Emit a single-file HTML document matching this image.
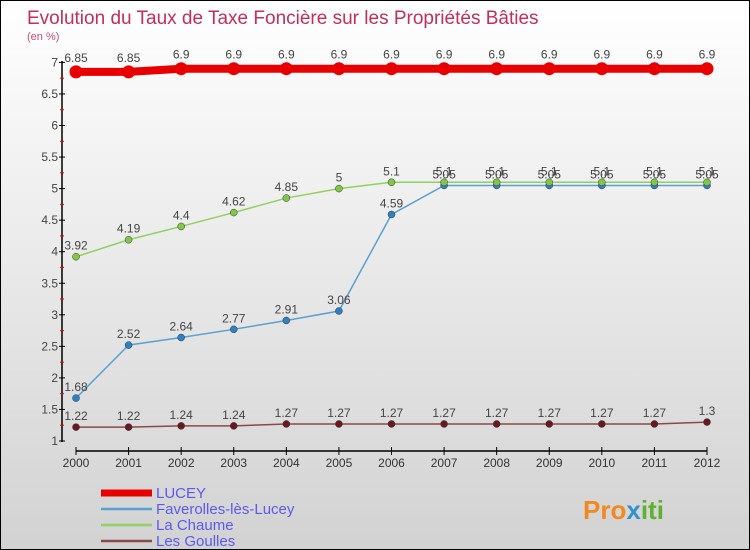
<!DOCTYPE html>
<html><head><meta charset="utf-8"><style>
body{margin:0}
#c{position:relative;width:748px;height:548px;border:1px solid #000;background:linear-gradient(#ffffff,#d2d2d2);font-family:"Liberation Sans",sans-serif;overflow:hidden}
svg text{font-family:"Liberation Sans",sans-serif}
</style></head><body>
<div id="c">
<svg id="s" width="748" height="548" xmlns="http://www.w3.org/2000/svg">
<text x="26" y="23" font-size="19" fill="#c0305a">Evolution du Taux de Taxe Foncière sur les Propriétés Bâties</text>
<text x="26" y="39" font-size="11" fill="#c0507a">(en %)</text>
<g id="axes"></g><g id="series"></g><g id="legend"></g>
<text x="582" y="518" font-size="26" font-weight="bold" fill="#f08a20">Pro<tspan fill="#3090d0">x</tspan><tspan fill="#60b030">iti</tspan></text>
</svg></div>
<script>
const years=[2000,2001,2002,2003,2004,2005,2006,2007,2008,2009,2010,2011,2012];
const yTicks=[1,1.5,2,2.5,3,3.5,4,4.5,5,5.5,6,6.5,7];
const lucey=[6.85,6.85,6.9,6.9,6.9,6.9,6.9,6.9,6.9,6.9,6.9,6.9,6.9];
const faverolles=[1.68,2.52,2.64,2.77,2.91,3.06,4.59,5.05,5.05,5.05,5.05,5.05,5.05];
const chaume=[3.92,4.19,4.4,4.62,4.85,5,5.1,5.1,5.1,5.1,5.1,5.1,5.1];
const goulles=[1.22,1.22,1.24,1.24,1.27,1.27,1.27,1.27,1.27,1.27,1.27,1.27,1.3];
const names=["LUCEY","Faverolles-lès-Lucey","La Chaume","Les Goulles"];
const NS="http://www.w3.org/2000/svg";
const X=i=>75+i*(706-75)/(years.length-1);
const Y=v=>440-(v-1)*63.1;
function mk(t,a,p){const e=document.createElementNS(NS,t);for(const k in a)e.setAttribute(k,a[k]);p.appendChild(e);return e;}
const ax=document.getElementById('axes');
let l=mk('line',{x1:61,y1:60,x2:61,y2:441,stroke:'#000','stroke-width':1.5},ax);


yTicks.forEach(v=>{
 mk('line',{x1:58,x2:64,y1:Y(v),y2:Y(v),stroke:'#000'},ax);
 if(v<7)mk('line',{x1:59,x2:63,y1:Y(v+0.25),y2:Y(v+0.25),stroke:'#e00'},ax);
 const t=mk('text',{x:57,y:Y(v)+4,'font-size':12,'text-anchor':'end',fill:'#444'},ax);t.textContent=v;
 
 
});
l=mk('line',{x1:75,y1:450,x2:706,y2:450,stroke:'#000','stroke-width':1.5},ax);


years.forEach((y,i)=>{
 mk('line',{x1:X(i),x2:X(i),y1:446,y2:454,stroke:'#000'},ax);
 const t=mk('text',{x:X(i),y:466,'font-size':12,'text-anchor':'middle',fill:'#333'},ax);t.textContent=y;
 
 
});
const sg=document.getElementById('series');
const defs=[[lucey,'#e80000',8,6.5,'#e80000','lucey'],[faverolles,'#5aa0d0',1.5,3.5,'#3080c0','faverolles'],[chaume,'#90d060',1.5,3.5,'#80c840','la-chaume'],[goulles,'#8a4848',1.5,3.5,'#6a1818','les-goulles']];
defs.forEach(([d,c,w,r,pc,n])=>{
 const g=mk('g',{},sg);
 
 
 const p=mk('polyline',{points:d.map((v,i)=>X(i)+','+Y(v)).join(' '),fill:'none',stroke:c,'stroke-width':w},g);
 
 
 d.forEach((v,i)=>{
  const ci=mk('circle',{cx:X(i),cy:Y(v),r:r,fill:pc,stroke:n=='lucey'?'none':'#335',"stroke-width":0.5},g);
  
  
  const t=mk('text',{x:X(i),y:Y(v)-(n=='lucey'?10:7),'font-size':12,'text-anchor':'middle',fill:'#444'},g);
  t.textContent=v;
  
  
 });
});
const lg=document.getElementById('legend');
defs.forEach((d,i)=>{
 const y=492+i*16;
 const g=mk('g',{},lg);
 
 
 mk('line',{x1:100,x2:151,y1:y,y2:y,stroke:d[1],'stroke-width':i==0?7:2.5},g);
 const t=mk('text',{x:155,y:y+5,'font-size':15,fill:'#5a5af0'},g);t.textContent=names[i];
});
</script>
</body></html>
